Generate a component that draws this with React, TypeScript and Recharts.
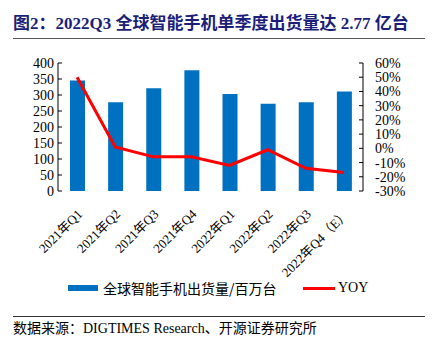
import {
  ComposedChart, Bar, Line, XAxis, YAxis,
} from 'recharts';

const quarters = ['2021年Q1', '2021年Q2', '2021年Q3', '2021年Q4', '2022年Q1', '2022年Q2', '2022年Q3', '2022年Q4（E）'];
const shipments = [345, 277, 321, 377, 303, 273, 277, 311];
const yoy = [50, 1, -6, -6, -12, -1, -14, -17];

const leftTicks = [0, 50, 100, 150, 200, 250, 300, 350, 400];
const rightTicks = [-30, -20, -10, 0, 10, 20, 30, 40, 50, 60];
const edgeTicks = [0, 1, 2, 3, 4, 5, 6, 7, 8];

const data = quarters.map((q, i) => ({ quarter: q, shipments: shipments[i], yoy: yoy[i] }));

const serif = "'Liberation Serif', 'Times New Roman', 'Noto Sans CJK SC', serif";
const tickStyle = { fontSize: 14, fontFamily: serif, fill: '#000' };

function QuarterTick({ x, y, payload }: any) {
  return (
    <g transform={`translate(${x + 6},${y + 16})`}>
      <text x={0} y={0} textAnchor="end" transform="rotate(-45)" fontSize={13} fontFamily={serif} fill="#000">
        {payload.value}
      </text>
    </g>
  );
}

function EmptyTick() {
  return <g />;
}

export default function App() {
  return (
    <div style={{ position: 'absolute', left: 0, top: 0, width: 436, height: 341, background: '#fff', fontFamily: serif }}>
      <div style={{ position: 'absolute', left: 13, top: 9, fontSize: 17, fontWeight: 'bold', color: '#1c1f7a', whiteSpace: 'nowrap' }}>
        图2：2022Q3 全球智能手机单季度出货量达 2.77 亿台
      </div>
      <div style={{ position: 'absolute', left: 13, top: 38, width: 412, borderTop: '1.5px solid #555' }} />

      <div style={{ position: 'absolute', left: 0, top: 0 }}>
        <ComposedChart width={436} height={280} data={data} margin={{ top: 63, right: 20, left: 10, bottom: 0 }}>
          <XAxis
            xAxisId="edge"
            type="number"
            domain={[0, 8]}
            ticks={edgeTicks}
            interval={0}
            allowDataOverflow
            tick={<EmptyTick />}
            height={0}
            tickSize={-4}
            stroke="#000"
          />
          <XAxis
            dataKey="quarter"
            interval={0}
            axisLine={false}
            tickLine={false}
            height={89}
            tick={<QuarterTick />}
          />
          <YAxis
            yAxisId="left"
            domain={[0, 400]}
            ticks={leftTicks}
            interval={0}
            width={48}
            tickSize={-4}
            tickMargin={8}
            stroke="#000"
            tick={tickStyle}
          />
          <YAxis
            yAxisId="right"
            orientation="right"
            domain={[-30, 60]}
            ticks={rightTicks}
            interval={0}
            width={53}
            tickSize={-4}
            tickMargin={16}
            stroke="#000"
            tick={{ ...tickStyle, textAnchor: 'start' }}
            tickFormatter={(v: number) => `${v}%`}
          />
          <Bar yAxisId="left" dataKey="shipments" fill="#0070C0" barSize={15} isAnimationActive={false} />
          <Line yAxisId="right" dataKey="yoy" type="linear" stroke="#FF0000" strokeWidth={3} dot={false} isAnimationActive={false} />
        </ComposedChart>
      </div>

      <div style={{ position: 'absolute', left: 68, top: 285, width: 30, height: 6, background: '#0070C0' }} />
      <div style={{ position: 'absolute', left: 103, top: 278, fontSize: 14, fontFamily: "'Noto Sans CJK SC', sans-serif", color: '#000', whiteSpace: 'nowrap', lineHeight: '20px' }}>
        全球智能手机出货量/百万台
      </div>
      <div style={{ position: 'absolute', left: 303, top: 287, width: 32, height: 3, background: '#FF0000' }} />
      <div style={{ position: 'absolute', left: 338, top: 278, fontSize: 14, color: '#000', whiteSpace: 'nowrap', lineHeight: '20px' }}>
        YOY
      </div>

      <div style={{ position: 'absolute', left: 13, top: 316, width: 412, borderTop: '1.5px solid #333' }} />
      <div style={{ position: 'absolute', left: 13, top: 319, fontSize: 14, color: '#000', whiteSpace: 'nowrap', lineHeight: '20px' }}>
        数据来源：DIGTIMES Research、开源证券研究所
      </div>
    </div>
  );
}
